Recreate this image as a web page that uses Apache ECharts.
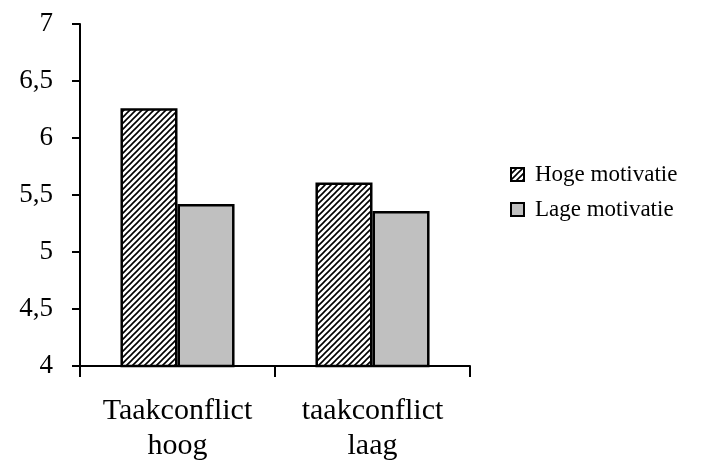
<!DOCTYPE html>
<html><head><meta charset="utf-8">
<script src="https://cdn.jsdelivr.net/npm/echarts@6/dist/echarts.min.js"></script>
<style>html,body{margin:0;padding:0;background:#fff}#c{width:709px;height:464px}</style>
</head><body><div id="c"></div>
<script>
var categories = ['Taakconflict\nhoog', 'taakconflict\nlaag'];
var seriesNames = ['Hoge motivatie', 'Lage motivatie'];
var hogeValues = [6.26, 5.61];
var lageValues = [5.42, 5.36];
var yTickLabels = ['4', '4,5', '5', '5,5', '6', '6,5', '7'];

function hatch() {
  var c = document.createElement('canvas');
  c.width = 6; c.height = 6;
  var g = c.getContext('2d');
  g.fillStyle = '#fff'; g.fillRect(0, 0, 6, 6);
  g.strokeStyle = '#000'; g.lineWidth = 1.6;
  g.beginPath();
  g.moveTo(-1, 7); g.lineTo(7, -1);
  g.moveTo(-4, 4); g.lineTo(4, -4);
  g.moveTo(2, 10); g.lineTo(10, 2);
  g.stroke();
  return c;
}
var font = 'Liberation Serif';
var chart = echarts.init(document.getElementById('c'));
chart.setOption({
  animation: false,
  grid: {left: 80, right: 239, top: 24, bottom: 97},
  legend: {
    orient: 'vertical', left: 510, top: 163, padding: 0, itemWidth: 13, itemHeight: 13, itemGap: 12,
    textStyle: {fontFamily: font, fontSize: 23, color: '#000', padding: [0, 0, 0, 6]},
    itemStyle: {borderWidth: 2, borderColor: '#000'},
    data: [{name: seriesNames[0], icon: 'rect'}, {name: seriesNames[1], icon: 'rect'}]
  },
  xAxis: {
    type: 'category', data: categories,
    axisLine: {lineStyle: {color: '#000', width: 2}},
    axisTick: {show: true, length: 11, lineStyle: {color: '#000', width: 2}},
    axisLabel: {fontFamily: font, fontSize: 30, color: '#000', lineHeight: 35, margin: 28}
  },
  yAxis: {
    type: 'value', min: 4, max: 7, interval: 0.5,
    splitLine: {show: false},
    axisLine: {show: true, lineStyle: {color: '#000', width: 2}},
    axisTick: {show: true, length: 8, lineStyle: {color: '#000', width: 2}},
    axisLabel: {fontFamily: font, fontSize: 27, color: '#000', margin: 27,
      formatter: function (v) { return yTickLabels[Math.round((v - 4) * 2)]; }}
  },
  series: [
    {name: seriesNames[0], type: 'bar', data: hogeValues, barGap: '0%', barCategoryGap: '41.5%',
     itemStyle: {color: {image: hatch(), repeat: 'repeat'}, borderColor: '#000', borderWidth: 2.5}},
    {name: seriesNames[1], type: 'bar', data: lageValues,
     itemStyle: {color: '#c0c0c0', borderColor: '#000', borderWidth: 2.5}}
  ]
});
</script></body></html>
